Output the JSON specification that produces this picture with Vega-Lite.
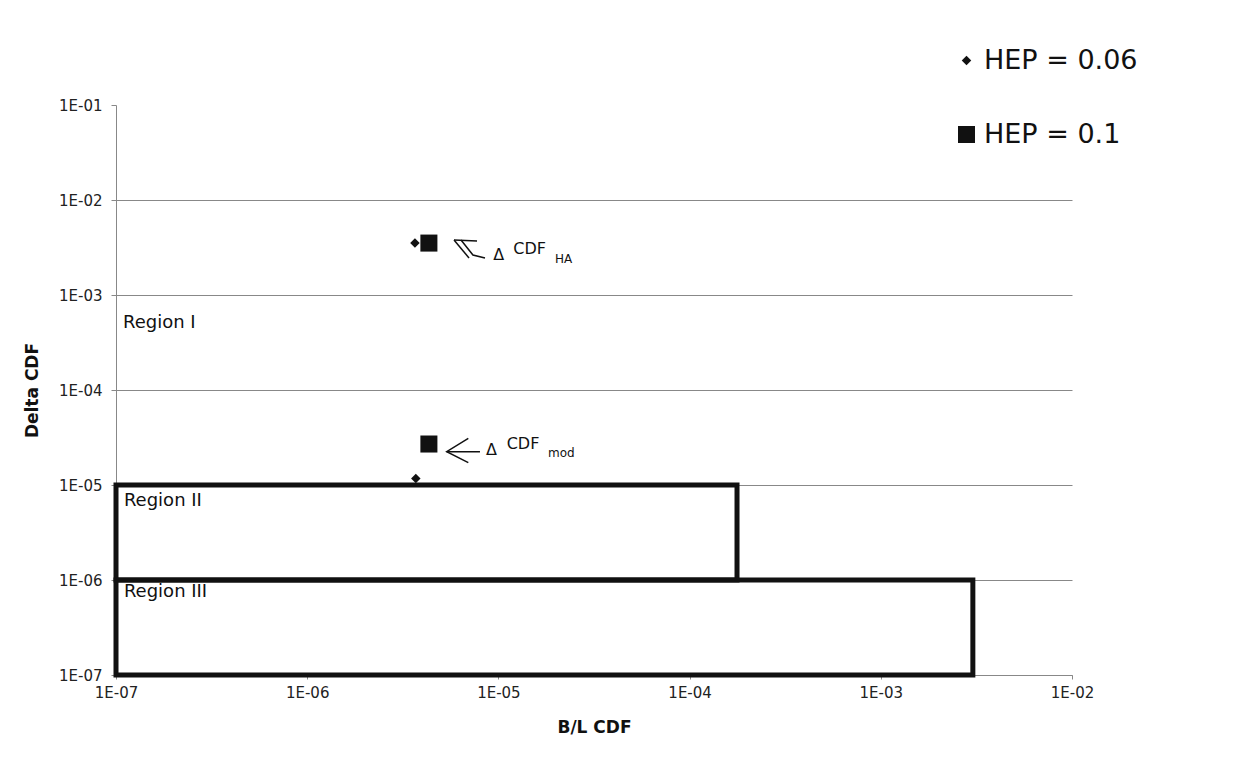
{
  "$schema": "https://vega.github.io/schema/vega-lite/v6.json",
  "width": 956,
  "height": 570,
  "autosize": {"type": "none"},
  "padding": {"left": 116, "top": 105, "right": 173, "bottom": 101},
  "background": "white",
  "config": {"view": {"stroke": null}, "font": "DejaVu Sans"},
  "datasets": {
    "regions": [
      {"region": "Region II", "x1": 1e-7, "x2": 1.77e-4, "y1": 1e-6, "y2": 1e-5},
      {"region": "Region III", "x1": 1e-7, "x2": 3.03e-3, "y1": 1e-7, "y2": 1e-6}
    ],
    "points": [
      {"series": "HEP = 0.06", "bl": 3.66e-6, "delta": 3.52e-3},
      {"series": "HEP = 0.1", "bl": 4.33e-6, "delta": 3.52e-3},
      {"series": "HEP = 0.06", "bl": 3.7e-6, "delta": 1.17e-5},
      {"series": "HEP = 0.1", "bl": 4.33e-6, "delta": 2.70e-5}
    ],
    "arrows": [
      {"seg": "mod-head", "ord": 1, "bl": 6.96e-6, "delta": 3.101e-5},
      {"seg": "mod-head", "ord": 2, "bl": 5.365e-6, "delta": 2.242e-5},
      {"seg": "mod-head", "ord": 3, "bl": 6.96e-6, "delta": 1.717e-5},
      {"seg": "mod-shaft", "ord": 1, "bl": 5.365e-6, "delta": 2.242e-5},
      {"seg": "mod-shaft", "ord": 2, "bl": 8.01e-6, "delta": 2.242e-5},
      {"seg": "ha-a", "ord": 1, "bl": 5.86e-6, "delta": 3.792e-3},
      {"seg": "ha-a", "ord": 2, "bl": 7.73e-6, "delta": 3.70e-3},
      {"seg": "ha-b", "ord": 1, "bl": 5.86e-6, "delta": 3.792e-3},
      {"seg": "ha-b", "ord": 2, "bl": 7.02e-6, "delta": 2.452e-3},
      {"seg": "ha-c", "ord": 1, "bl": 6.375e-6, "delta": 3.792e-3},
      {"seg": "ha-c", "ord": 2, "bl": 7.36e-6, "delta": 2.638e-3},
      {"seg": "ha-c", "ord": 3, "bl": 8.51e-6, "delta": 2.452e-3}
    ],
    "regionLabels": [
      {"label": "Region I", "bl": 1.088e-7, "delta": 5.07e-4},
      {"label": "Region II", "bl": 1.1e-7, "delta": 6.79e-6},
      {"label": "Region  III", "bl": 1.1e-7, "delta": 7.47e-7}
    ],
    "deltaSigns": [
      {"label": "Δ", "bl": 8.61e-6, "delta": 2.336e-5},
      {"label": "Δ", "bl": 9.4e-6, "delta": 2.638e-3}
    ],
    "cdfLabels": [
      {"label": "CDF", "bl": 1.105e-5, "delta": 2.702e-5},
      {"label": "CDF", "bl": 1.197e-5, "delta": 3.028e-3}
    ],
    "subLabels": [
      {"label": "mod", "bl": 1.817e-5, "delta": 2.172e-5},
      {"label": "HA", "bl": 1.977e-5, "delta": 2.393e-3}
    ]
  },
  "layer": [
    {
      "data": {"name": "regions"},
      "mark": {"type": "rect", "filled": false, "stroke": "#111", "strokeWidth": 5},
      "encoding": {
        "x": {
          "field": "x1", "type": "quantitative",
          "scale": {"type": "log", "domain": [1e-7, 1e-2], "nice": false},
          "axis": {
            "title": "B/L CDF",
            "values": [1e-7, 1e-6, 1e-5, 1e-4, 1e-3, 1e-2],
            "labelExpr": "'1E-0' + round(-log(datum.value)/LN10)",
            "grid": false,
            "domainColor": "#888",
            "tickColor": "#888",
            "tickSize": 4,
            "labelFontSize": 15,
            "labelColor": "#222",
            "labelPadding": 6,
            "labelFlush": false,
            "titleFontSize": 17,
            "titleFontWeight": "bold",
            "titleColor": "#111",
            "titlePadding": 19
          }
        },
        "x2": {"field": "x2"},
        "y": {
          "field": "y1", "type": "quantitative",
          "scale": {"type": "log", "domain": [1e-7, 1e-1], "nice": false},
          "axis": {
            "title": "Delta CDF",
            "values": [1e-7, 1e-6, 1e-5, 1e-4, 1e-3, 1e-2, 1e-1],
            "labelExpr": "'1E-0' + round(-log(datum.value)/LN10)",
            "grid": true,
            "gridColor": "#888",
            "gridWidth": 1,
            "gridOpacity": {"condition": {"test": "datum.value > 0.05", "value": 0}, "value": 1},
            "domainColor": "#888",
            "tickColor": "#888",
            "tickSize": 5,
            "labelFontSize": 15,
            "labelColor": "#222",
            "labelPadding": 9,
            "labelFlush": false,
            "titleFontSize": 17,
            "titleFontWeight": "bold",
            "titleColor": "#111",
            "titlePadding": 17
          }
        },
        "y2": {"field": "y2"}
      }
    },
    {
      "data": {"name": "arrows"},
      "mark": {"type": "line", "stroke": "#111", "strokeWidth": 1.5},
      "encoding": {
        "x": {"field": "bl", "type": "quantitative"},
        "y": {"field": "delta", "type": "quantitative"},
        "detail": {"field": "seg"},
        "order": {"field": "ord"}
      }
    },
    {
      "data": {"name": "points"},
      "mark": {"type": "point", "filled": true, "color": "#111", "opacity": 1},
      "encoding": {
        "x": {"field": "bl", "type": "quantitative"},
        "y": {"field": "delta", "type": "quantitative"},
        "shape": {
          "field": "series", "type": "ordinal",
          "scale": {"domain": ["HEP = 0.06", "HEP = 0.1"], "range": ["diamond", "square"]},
          "legend": {
            "orient": "none", "legendX": 837, "legendY": -58, "title": null,
            "labelFontSize": 27, "labelFont": "DejaVu Sans", "labelColor": "#111",
            "rowPadding": 46, "labelOffset": 4, "padding": 0,
            "symbolFillColor": "#111", "symbolStrokeWidth": 0
          }
        },
        "size": {
          "field": "series", "type": "ordinal",
          "scale": {"domain": ["HEP = 0.06", "HEP = 0.1"], "range": [90, 290]},
          "legend": {
            "orient": "none", "legendX": 837, "legendY": -58, "title": null,
            "labelFontSize": 27, "labelFont": "DejaVu Sans", "labelColor": "#111",
            "rowPadding": 46, "labelOffset": 4, "padding": 0,
            "symbolFillColor": "#111", "symbolStrokeWidth": 0
          }
        }
      }
    },
    {
      "data": {"name": "regionLabels"},
      "mark": {"type": "text", "align": "left", "baseline": "middle", "fontSize": 18, "color": "#111"},
      "encoding": {
        "x": {"field": "bl", "type": "quantitative"},
        "y": {"field": "delta", "type": "quantitative"},
        "text": {"field": "label"}
      }
    },
    {
      "data": {"name": "deltaSigns"},
      "mark": {"type": "text", "align": "left", "baseline": "middle", "fontSize": 16, "color": "#111"},
      "encoding": {
        "x": {"field": "bl", "type": "quantitative"},
        "y": {"field": "delta", "type": "quantitative"},
        "text": {"field": "label"}
      }
    },
    {
      "data": {"name": "cdfLabels"},
      "mark": {"type": "text", "align": "left", "baseline": "middle", "fontSize": 16, "color": "#111"},
      "encoding": {
        "x": {"field": "bl", "type": "quantitative"},
        "y": {"field": "delta", "type": "quantitative"},
        "text": {"field": "label"}
      }
    },
    {
      "data": {"name": "subLabels"},
      "mark": {"type": "text", "align": "left", "baseline": "middle", "fontSize": 12, "color": "#111"},
      "encoding": {
        "x": {"field": "bl", "type": "quantitative"},
        "y": {"field": "delta", "type": "quantitative"},
        "text": {"field": "label"}
      }
    }
  ]
}
